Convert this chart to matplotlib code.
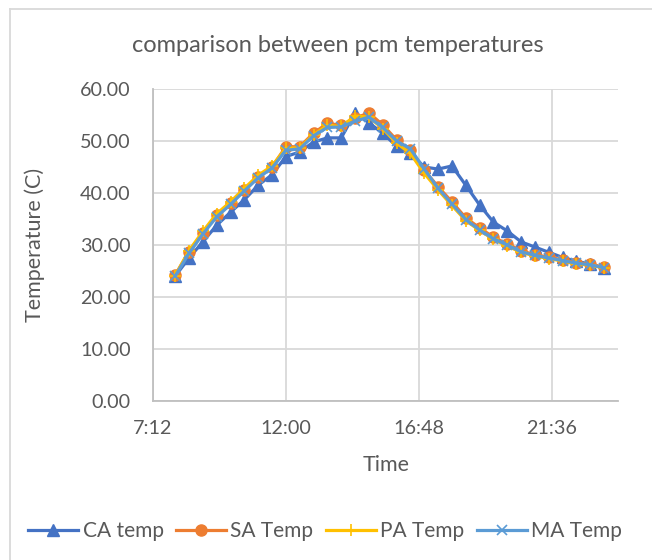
import numpy as np
import matplotlib
matplotlib.use("Agg")
import matplotlib.pyplot as plt
from matplotlib.lines import Line2D

plt.rcParams['font.family'] = ['Lato', 'DejaVu Sans']

times = ["8:00", "8:30", "9:00", "9:30", "10:00", "10:30", "11:00", "11:30",
         "12:00", "12:30", "13:00", "13:30", "14:00", "14:30", "15:00", "15:30",
         "16:00", "16:30", "17:00", "17:30", "18:00", "18:30", "19:00", "19:30",
         "20:00", "20:30", "21:00", "21:30", "22:00", "22:30", "23:00", "23:30"]

ca_temp = [24.0, 27.5, 30.6, 33.8, 36.3, 38.7, 41.5, 43.5,
           47.0, 47.9, 49.8, 50.6, 50.6, 55.4, 53.5, 51.5,
           49.0, 47.7, 45.0, 44.6, 45.2, 41.5, 37.7, 34.4,
           32.7, 30.6, 29.6, 28.6, 27.6, 26.9, 26.3, 25.6]
sa_temp = [24.2, 28.7, 32.3, 35.8, 38.0, 40.6, 43.1, 45.0,
           48.9, 48.9, 51.5, 53.4, 53.0, 54.4, 55.4, 53.1,
           50.2, 48.3, 44.4, 41.2, 38.3, 35.2, 33.3, 31.5,
           30.2, 28.9, 28.1, 27.7, 27.1, 26.6, 26.3, 25.7]
pa_temp = [24.1, 28.9, 32.6, 36.0, 38.3, 40.9, 43.4, 45.2,
           48.6, 48.7, 51.2, 53.0, 52.8, 54.8, 54.6, 52.4,
           49.6, 47.6, 43.8, 40.6, 37.6, 34.7, 32.8, 31.1,
           29.8, 28.6, 27.9, 27.4, 26.9, 26.4, 26.1, 25.6]
ma_temp = [24.0, 28.4, 32.1, 35.4, 37.8, 40.4, 42.9, 44.8,
           48.2, 48.5, 51.0, 52.6, 52.7, 53.8, 54.6, 52.6,
           50.0, 48.5, 44.6, 40.9, 37.9, 34.9, 32.9, 31.2,
           30.0, 28.7, 28.0, 27.5, 27.0, 26.5, 26.2, 25.6]

x_ticks = [7.2, 12.0, 16.8, 21.6]
x_tick_labels = ["7:12", "12:00", "16:48", "21:36"]

hours = np.array([int(t.split(":")[0]) + int(t.split(":")[1]) / 60 for t in times])

fig = plt.figure(figsize=(6.52, 5.6), dpi=100)
ax = fig.add_axes([153 / 652, 1 - 401 / 560, 465 / 652, 312 / 560])

txt = '#595959'
grid = '#D9D9D9'

ax.plot(hours, ca_temp, color='#4472C4', lw=2.3, marker='^', ms=9, label='CA temp', zorder=3)
ax.plot(hours, sa_temp, color='#ED7D31', lw=2.3, marker='o', ms=8, label='SA Temp', zorder=4)
ax.plot(hours, pa_temp, color='#FFC000', lw=2.3, marker='+', ms=8, mew=1.2, label='PA Temp', zorder=5)
ax.plot(hours, ma_temp, color='#5B9BD5', lw=2.3, marker='x', ms=7, mew=1.2, label='MA Temp', zorder=6)

ax.set_xlim(7.2, 24.0)
ax.set_ylim(0, 60)
ax.set_xticks(x_ticks)
ax.set_xticklabels(x_tick_labels)
ax.set_yticks(np.arange(0, 61, 10))
ax.set_yticklabels([f"{v:.2f}" for v in np.arange(0, 61, 10)])
ax.grid(True, color=grid, lw=1.3)
ax.set_axisbelow(True)
for s in ['top', 'right']:
    ax.spines[s].set_visible(False)
for s in ['left', 'bottom']:
    ax.spines[s].set_color('#BFBFBF')
    ax.spines[s].set_linewidth(1.3)
ax.tick_params(length=0, labelsize=14.2, colors=txt)
ax.tick_params(axis='y', pad=16)
ax.tick_params(axis='x', pad=14)

ax.set_xlabel("Time", fontsize=15.5, color=txt)
ax.set_ylabel("Temperature (C)", fontsize=15.5, color=txt)
ax.xaxis.set_label_coords((362 + 24 - 153) / 465, (401 - 465) / 312)
ax.xaxis.label.set_va('center')
ax.yaxis.set_label_coords((35 - 153) / 465, 0.5)
ax.yaxis.label.set_va('center')

fig.text(338 / 652, 1 - 45 / 560, "comparison between pcm temperatures",
         ha='center', va='center', fontsize=17, color=txt)

handles, labels = ax.get_legend_handles_labels()
fig.legend(handles, labels, loc='center', bbox_to_anchor=(325 / 652, 1 - 531 / 560),
           ncol=4, frameon=False, fontsize=15, labelcolor=txt,
           handlelength=2.4, handletextpad=0.2, columnspacing=0.6)

# chart border (top and left edges visible)
fig.add_artist(Line2D([10 / 652, 10 / 652], [0, 1 - 9 / 560], color='#D9D9D9', lw=1.3))
fig.add_artist(Line2D([10 / 652, 1], [1 - 9 / 560, 1 - 9 / 560], color='#D9D9D9', lw=1.3))

fig.savefig("out.png", dpi=100)
